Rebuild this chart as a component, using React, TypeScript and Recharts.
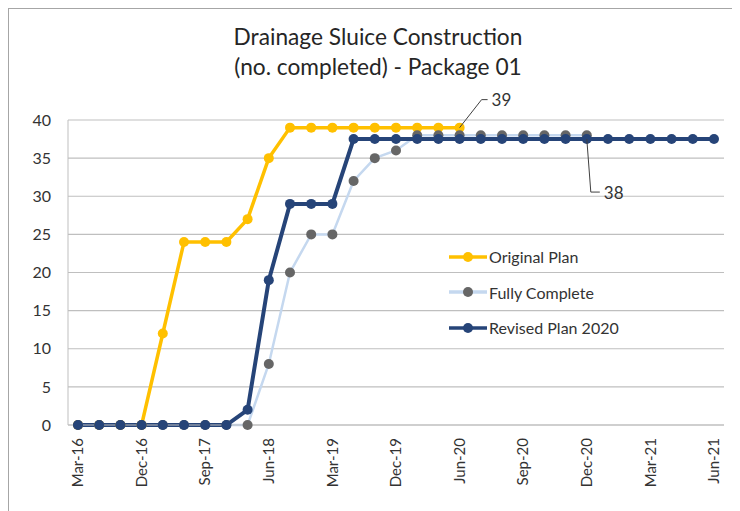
import { LineChart, Line, XAxis, YAxis, CartesianGrid, Legend, LabelList } from "recharts";

const periods = [
  "Mar-16", "Jun-16", "Sep-16", "Dec-16", "Mar-17", "Jun-17", "Sep-17", "Dec-17",
  "Mar-18", "Jun-18", "Sep-18", "Dec-18", "Mar-19", "Jun-19", "Sep-19", "Dec-19",
  "Mar-20", "May-20", "Jun-20", "Jul-20", "Aug-20", "Sep-20", "Oct-20", "Nov-20",
  "Dec-20", "Jan-21", "Feb-21", "Mar-21", "Apr-21", "May-21", "Jun-21",
];

const originalPlan = [0, 0, 0, 0, 12, 24, 24, 24, 27, 35, 39, 39, 39, 39, 39, 39, 39, 39, 39];

const fullyComplete = [0, 0, 0, 0, 0, 0, 0, 0, 0, 8, 20, 25, 25, 32, 35, 36, 38, 38, 38, 38, 38, 38, 38, 38, 38];

const revisedPlan = [
  0, 0, 0, 0, 0, 0, 0, 0, 2, 19, 29, 29, 29, 37.5, 37.5, 37.5, 37.5, 37.5, 37.5,
  37.5, 37.5, 37.5, 37.5, 37.5, 37.5, 37.5, 37.5, 37.5, 37.5, 37.5, 37.5,
];

const yTicks = [0, 5, 10, 15, 20, 25, 30, 35, 40];

const data = periods.map((p, i) => ({
  period: p,
  original: originalPlan[i] ?? null,
  complete: fullyComplete[i] ?? null,
  revised: revisedPlan[i] ?? null,
}));

const FONT = "Lato, 'Liberation Sans', sans-serif";
const TEXT = "#333333";
const ORANGE = "#FFC000";
const NAVY = "#264478";
const PALE = "#C5D8EF";
const GREY = "#666666";

const legendItems = [
  { name: "Original Plan", line: ORANGE, dot: ORANGE },
  { name: "Fully Complete", line: PALE, dot: GREY },
  { name: "Revised Plan 2020", line: NAVY, dot: NAVY },
];

const XTick = (props: any) => {
  const { x, y, payload } = props;
  return (
    <g transform={`translate(${x},${y})`}>
      <text transform="rotate(-90)" textAnchor="end" dy="0.35em" fill={TEXT} fontSize={15} fontFamily={FONT}>
        {payload.value}
      </text>
    </g>
  );
};

const renderLegend = () => (
  <div style={{ fontFamily: FONT, fontSize: 16, color: TEXT }}>
    {legendItems.map((it) => (
      <div key={it.name} style={{ display: "flex", alignItems: "center", height: 35.5 }}>
        <svg width={40} height={12} style={{ display: "block" }}>
          <line x1={0} y1={6} x2={38} y2={6} stroke={it.line} strokeWidth={3.5} />
          <circle cx={19} cy={6} r={5} fill={it.dot} />
        </svg>
        <span>{it.name}</span>
      </div>
    ))}
  </div>
);

const callout = (targetIndex: number, dx: number, dy: number, knee: number) => (props: any) => {
  const { x, y, value, index } = props;
  if (index !== targetIndex || x == null || y == null) return null;
  const ex = x + dx;
  const ey = y + dy;
  return (
    <g>
      <path d={`M${x},${y} L${ex},${ey} L${ex + knee},${ey}`} stroke="#404040" strokeWidth={1} fill="none" />
      <text x={ex + knee + 4} y={ey} dominantBaseline="central" fill={TEXT} fontSize={17} fontFamily={FONT}>
        {Math.round(value)}
      </text>
    </g>
  );
};

const App = () => {
  return (
    <div style={{ position: "relative", width: 740, height: 510, borderLeft: "1px solid #a6a6a6", borderTop: "1px solid #a6a6a6", background: "#fff" }}>
      <div style={{ position: "absolute", left: 169, top: 13, width: 400, textAlign: "center", fontFamily: FONT, fontSize: 22.7, lineHeight: "30px", color: "#262626" }}>
        <div>Drainage Sluice Construction</div>
        <div>(no. completed) - Package 01</div>
      </div>
      <LineChart width={740} height={510} data={data} margin={{ top: 111, right: 25, left: 0, bottom: 0 }}>
        <CartesianGrid vertical={false} stroke="#BFBFBF" strokeWidth={1.2} />
        <XAxis
          dataKey="period"
          interval={2}
          height={94}
          padding={{ left: 10, right: 10 }}
          axisLine={{ stroke: "#BFBFBF" }}
          tickLine={false}
          tickSize={0}
          tickMargin={13}
          tick={<XTick />}
        />
        <YAxis
          domain={[0, 40]}
          ticks={yTicks}
          width={59}
          axisLine={{ stroke: "#BFBFBF" }}
          tickLine={false}
          tickSize={0}
          tickMargin={17}
          tick={{ fill: TEXT, fontSize: 16, fontFamily: FONT }}
        />
        <Legend
          layout="vertical"
          align="center"
          verticalAlign="middle"
          content={renderLegend}
          wrapperStyle={{ position: "absolute", left: 440, top: 230, width: 200, height: 110 }}
        />
        <Line dataKey="original" stroke={ORANGE} strokeWidth={3.5} dot={{ r: 5, fill: ORANGE, stroke: ORANGE, strokeWidth: 0 }} activeDot={false} isAnimationActive={false}>
          <LabelList dataKey="original" content={callout(18, 22, -28, 6)} />
        </Line>
        <Line dataKey="complete" stroke={PALE} strokeWidth={2.5} dot={{ r: 5, fill: GREY, stroke: GREY, strokeWidth: 0 }} activeDot={false} isAnimationActive={false} />
        <Line dataKey="revised" stroke={NAVY} strokeWidth={4} dot={{ r: 5, fill: NAVY, stroke: NAVY, strokeWidth: 0 }} activeDot={false} isAnimationActive={false}>
          <LabelList dataKey="revised" content={callout(24, 4, 53, 9)} />
        </Line>
      </LineChart>
    </div>
  );
};

export default App;
